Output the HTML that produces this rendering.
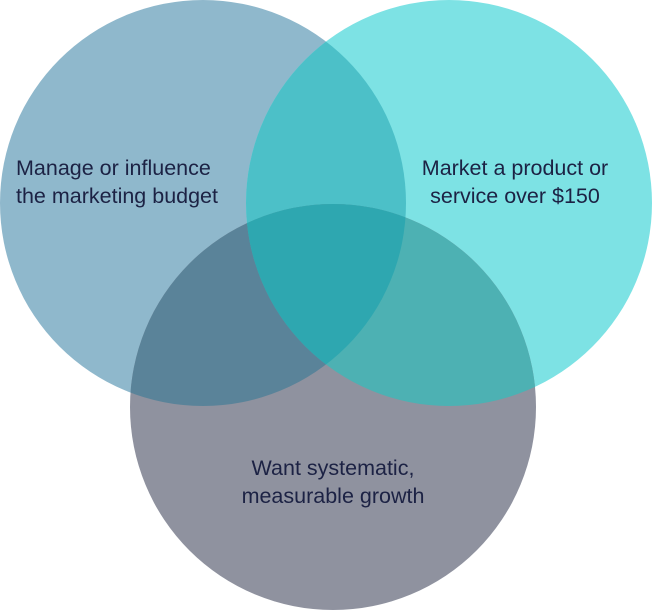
<!DOCTYPE html>
<html><head><meta charset="utf-8"><style>
html,body{margin:0;padding:0;background:#fff;}
svg{display:block}
text{font-family:"Liberation Sans",sans-serif;font-size:21.5px;fill:#1c2244;}
</style></head><body>
<svg width="652" height="610" viewBox="0 0 652 610">
<defs>
<clipPath id="cL"><circle cx="203" cy="203" r="203"/></clipPath>
<clipPath id="cR"><circle cx="449" cy="203" r="203"/></clipPath>
<clipPath id="cB"><circle cx="333" cy="407" r="203"/></clipPath>
</defs>
<circle cx="203" cy="203" r="203" fill="#8fb8cc"/>
<circle cx="449" cy="203" r="203" fill="#7de2e4"/>
<circle cx="333" cy="407" r="203" fill="#8f929f"/>
<g clip-path="url(#cL)"><circle cx="449" cy="203" r="203" fill="#4cc0c8"/></g>
<g clip-path="url(#cL)"><circle cx="333" cy="407" r="203" fill="#5a8399"/></g>
<g clip-path="url(#cR)"><circle cx="333" cy="407" r="203" fill="#4db1b3"/></g>
<g clip-path="url(#cL)"><g clip-path="url(#cR)"><circle cx="333" cy="407" r="203" fill="#2ea7b0"/></g></g>
<text x="16" y="175">Manage or influence</text>
<text x="16" y="203">the marketing budget</text>
<text x="515" y="175" text-anchor="middle">Market a product or</text>
<text x="515" y="203" text-anchor="middle">service over $150</text>
<text x="333" y="475" text-anchor="middle">Want systematic,</text>
<text x="333" y="503" text-anchor="middle">measurable growth</text>
</svg>
</body></html>
